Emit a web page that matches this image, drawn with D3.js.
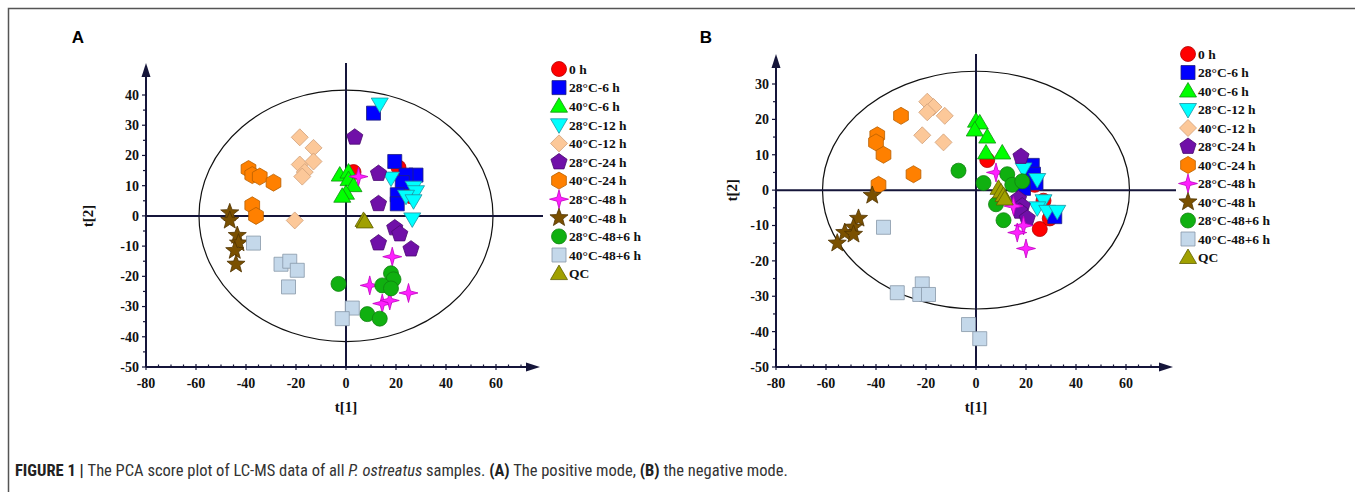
<!DOCTYPE html>
<html><head><meta charset="utf-8">
<script src="https://cdn.jsdelivr.net/npm/d3@7"></script>
<style>
html,body{margin:0;padding:0;background:#fff;}
svg{display:block;}
.tick{font-family:"Liberation Serif","Tinos","Times New Roman","DejaVu Serif",serif;font-weight:bold;font-size:14px;fill:#111;}
.leg{font-family:"Liberation Serif","Tinos","Times New Roman","DejaVu Serif",serif;font-weight:bold;font-size:13.5px;fill:#111;}
.atitle{font-family:"Liberation Serif","Tinos","Times New Roman","DejaVu Serif",serif;font-weight:bold;font-size:15px;fill:#111;}
.plabel{font-family:"Liberation Sans",Arial,sans-serif;font-weight:bold;font-size:17px;fill:#000;}
.cap{font-family:"Liberation Sans Narrow","Arial Narrow","Roboto Condensed",sans-serif;font-size:16.5px;fill:#333;}
</style>
</head><body>
<svg id="fig" width="1355" height="492"></svg>
<script>
// ---------- data ----------
const groups = ["0 h","28\u00B0C-6 h","40\u00B0C-6 h","28\u00B0C-12 h","40\u00B0C-12 h","28\u00B0C-24 h","40\u00B0C-24 h","28\u00B0C-48 h","40\u00B0C-48 h","28\u00B0C-48+6 h","40\u00B0C-48+6 h","QC"];
const shapes = ["circle","square","triangle","triangleDown","diamond","pentagon","hexagon","star4","star5","circle","square","triangle"];
const fills  = ["#ff0000","#0000ff","#00ff00","#00ffff","#fcc899","#7010a8","#ff8000","#ff20ff","#7a5000","#10b010","#c4d8ea","#a0a000"];
const strokes= ["#b00000","#202080","#109010","#2090a0","#d0a078","#4a0a70","#b86000","#c000c0","#503400","#108010","#8898a8","#606000"];

const xTicks = [-80,-60,-40,-20,0,20,40,60];
const yTicksA = [-50,-40,-30,-20,-10,0,10,20,30,40];
const yTicksB = [-50,-40,-30,-20,-10,0,10,20,30];

// Panel A (positive mode) scores [t1, t2]
const a0h    = [[3,14.5],[21,16],[25,9],[26,6.5],[24,12]];
const a28_6  = [[11,34],[19.5,18],[28,13.5],[24,13.5],[22.5,11],[20.5,7],[20.5,4]];
const a40_6  = [[-2.5,13.5],[1,14.5],[1,12],[3,10],[0,7.5],[-1.5,6.5]];
const a28_12 = [[13.5,37],[18,12.5],[27,9.5],[28,8],[24,6.5],[27,5],[26.5,-1]];
const a40_12 = [[-18.5,26],[-13,22.5],[-18.5,17],[-13,18],[-16.5,14.5],[-17.5,13],[-20.5,-1.5]];
const a28_24 = [[3.5,26],[13,14],[13,4],[19.5,-4],[21.5,-6],[13,-9],[26,-11]];
const a40_24 = [[-39,15.5],[-37.5,13.5],[-34.5,13],[-29,11],[-37.5,3.5],[-36,0]];
const a28_48 = [[5,13],[18.5,-13.5],[9.5,-23],[25,-25.5],[14.5,-29],[17.5,-28]];
const a40_48 = [[-46.5,1],[-46.5,-1.5],[-43.5,-6.5],[-43,-9],[-44.5,-11.5],[-44,-16]];
const a28_54 = [[-3,-22.5],[18,-19],[19,-21],[14.5,-23],[18,-24],[8.5,-32.5],[13.5,-34]];
const a40_54 = [[-37,-9],[-26,-16],[-22.5,-15],[-19.5,-18],[-23,-23.5],[2.5,-30.5],[-1.5,-34]];
const aQC    = [[7,-1.5],[7.5,-2]];

// Panel B (negative mode) scores [t1, t2]
const b0h    = [[4.5,8.5],[22,3],[23.5,1.5],[27,-3],[25.5,-11],[29.5,-8]];
const b28_6  = [[21,5],[22.5,7],[23,4.5],[24,2],[19,0.5],[31.5,-7.5]];
const b40_6  = [[0,19.5],[1.5,19],[-0.5,17],[4.5,15],[4,10.5],[10.5,10.5]];
const b28_12 = [[19,6],[24.5,3],[27,-3],[24.5,-5],[28.5,-6],[32.5,-6]];
const b40_12 = [[-19.5,25],[-17,23.5],[-19.5,22],[-12.5,21],[-21.5,15.5],[-13,13.5]];
const b28_24 = [[18,9.5],[17,-2.5],[18.5,-4.5],[17.5,-6],[20.5,-8]];
const b40_24 = [[-30,21],[-39.5,15.5],[-40,13.5],[-37,10],[-25,4.5],[-39,1.5]];
const b28_48 = [[8,5],[15,-4.5],[19,-10],[16.5,-12],[20,-16.5]];
const b40_48 = [[-41.5,-1.5],[-47,-8],[-49,-10.5],[-52.5,-12],[-49,-12.5],[-55.5,-15]];
const b28_54 = [[-7,5.5],[3,2],[12.5,4.5],[14.5,1.5],[18.5,2.5],[8,-4],[11,-8.5]];
const b40_54 = [[-37,-10.5],[-31.5,-29],[-21.5,-26.5],[-22.5,-29.5],[-19,-29.5],[-3,-38],[1.5,-42]];
const bQC    = [[9,0.5],[10,-0.5],[11,-1.5],[11.5,-2.5]];

const seriesA = [a0h,a28_6,a40_6,a28_12,a40_12,a28_24,a40_24,a28_48,a40_48,a28_54,a40_54,aQC];
const seriesB = [b0h,b28_6,b40_6,b28_12,b40_12,b28_24,b40_24,b28_48,b40_48,b28_54,b40_54,bQC];

// Hotelling T2 ellipse semi-axes (t1, t2 units)
const ellipseA = [58.8, 41.6];
const ellipseB = [61.4, 33.6];

// ---------- drawing ----------
const svg = d3.select("#fig");
svg.append("rect").attr("x",8.5).attr("y",8.5).attr("width",1400).attr("height",600)
  .attr("fill","none").attr("stroke","#555").attr("stroke-width",1.5);

function poly(n, r, rot){
  const pts=[];
  for(let i=0;i<n;i++){const a=rot+i*2*Math.PI/n;pts.push([r*Math.cos(a),r*Math.sin(a)]);}
  return "M"+pts.map(p=>p[0].toFixed(2)+","+p[1].toFixed(2)).join("L")+"Z";
}
function starPath(n, ro, ri){
  const pts=[];
  for(let i=0;i<2*n;i++){const a=-Math.PI/2+i*Math.PI/n;const r=i%2?ri:ro;pts.push([r*Math.cos(a),r*Math.sin(a)]);}
  return "M"+pts.map(p=>p[0].toFixed(2)+","+p[1].toFixed(2)).join("L")+"Z";
}
function shapePath(t){
  switch(t){
    case "circle": return "M7.5,0A7.5,7.5 0 1,1 -7.5,0A7.5,7.5 0 1,1 7.5,0Z";
    case "square": return "M-7,-7H7V7H-7Z";
    case "triangle": return "M0,-8.5L8.5,6L-8.5,6Z";
    case "triangleDown": return "M0,8.5L8.5,-6L-8.5,-6Z";
    case "diamond": return "M0,-8.5L8.5,0L0,8.5L-8.5,0Z";
    case "pentagon": return poly(5,8.5,-Math.PI/2);
    case "hexagon": return poly(6,8.5,-Math.PI/2);
    case "star4": return starPath(4,9.5,2.8);
    case "star5": return starPath(5,9.5,4);
  }
}

function panel(cfg){
  const x = d3.scaleLinear().domain([-80,60]).range(cfg.xr);
  const y = d3.scaleLinear().domain([-50,cfg.ytop]).range([367,cfg.ytopPx]);
  const g = svg.append("g");
  const axisCol = "#15153a";

  g.append("ellipse").attr("cx",x(0)).attr("cy",y(0))
    .attr("rx",x(cfg.ell[0])-x(0)).attr("ry",y(0)-y(cfg.ell[1]))
    .attr("fill","none").attr("stroke","#111").attr("stroke-width",1.2);

  g.append("line").attr("x1",x(-80)).attr("x2",cfg.zeroEnd).attr("y1",y(0)).attr("y2",y(0))
    .attr("stroke",axisCol).attr("stroke-width",2);
  g.append("line").attr("x1",x(0)).attr("x2",x(0)).attr("y1",367).attr("y2",cfg.arrowTop)
    .attr("stroke",axisCol).attr("stroke-width",2);

  const xa = g.append("g").attr("transform","translate(0,367)");
  xa.append("line").attr("x1",x(-80)).attr("x2",cfg.arrowRight-6).attr("stroke",axisCol).attr("stroke-width",2);
  xa.append("path").attr("d",`M${cfg.arrowRight},0L${cfg.arrowRight-14},-4.5L${cfg.arrowRight-14},4.5Z`).attr("fill",axisCol);
  d3.range(-80,71,5).forEach(v=>{
    const maj = v%20===0;
    xa.append("line").attr("x1",x(v)).attr("x2",x(v)).attr("y1",maj?-3:-2.5).attr("y2",maj?3:1).attr("stroke",axisCol).attr("stroke-width",1.2);
  });
  xTicks.forEach(v=>{
    xa.append("text").attr("class","tick").attr("x",x(v)).attr("y",21).attr("text-anchor","middle").text(v);
  });

  const ya = g.append("g").attr("transform",`translate(${x(-80)},0)`);
  ya.append("line").attr("y1",367).attr("y2",cfg.arrowTop+6).attr("stroke",axisCol).attr("stroke-width",2);
  ya.append("path").attr("d",`M0,${cfg.arrowTop}L-4.5,${cfg.arrowTop+14}L4.5,${cfg.arrowTop+14}Z`).attr("fill",axisCol);
  d3.range(-50,cfg.ytop+1,5).forEach(v=>{
    const maj = v%10===0;
    ya.append("line").attr("x1",maj?-4:-3).attr("x2",maj?1:0).attr("y1",y(v)).attr("y2",y(v)).attr("stroke",axisCol).attr("stroke-width",1.2);
  });
  cfg.yTicks.forEach(v=>{
    ya.append("text").attr("class","tick").attr("x",-7).attr("y",y(v)).attr("dy","0.35em").attr("text-anchor","end").text(v);
  });

  g.append("text").attr("class","atitle").attr("x",x(0)).attr("y",412).attr("text-anchor","middle").text("t[1]");
  g.append("text").attr("class","atitle").attr("transform",`translate(${cfg.t2x},${y(0)}) rotate(-90)`).attr("text-anchor","middle").attr("dy","0.35em").text("t[2]");
  g.append("text").attr("class","plabel").attr("x",cfg.plx).attr("y",43).attr("text-anchor","middle").text(cfg.label);

  cfg.series.forEach((pts,i)=>{
    g.append("g").selectAll("path").data(pts).join("path")
      .attr("d",shapePath(shapes[i]))
      .attr("transform",d=>`translate(${x(d[0])},${y(d[1])})`)
      .attr("fill",fills[i]).attr("stroke",strokes[i]).attr("stroke-width",0.8);
  });

  const lg = g.append("g");
  groups.slice(0,cfg.legendN).forEach((name,i)=>{
    const yy = cfg.legY + i*cfg.legDy;
    lg.append("path").attr("d",shapePath(shapes[i])).attr("transform",`translate(${cfg.legX},${yy})`)
      .attr("fill",fills[i]).attr("stroke",strokes[i]).attr("stroke-width",0.8);
    lg.append("text").attr("class","leg").attr("x",cfg.legX+10).attr("y",yy).attr("dy","0.35em").text(name);
  });
}

panel({xr:[146,496], ytop:40, ytopPx:95, yTicks:yTicksA, ell:ellipseA, series:seriesA,
  zeroEnd:543, arrowTop:63, arrowRight:540, t2x:88, plx:78, label:"A",
  legX:559, legY:69, legDy:18.6, legendN:12});
panel({xr:[776,1126], ytop:30, ytopPx:84, yTicks:yTicksB, ell:ellipseB, series:seriesB,
  zeroEnd:1176, arrowTop:54, arrowRight:1173, t2x:732, plx:706, label:"B",
  legX:1188, legY:54, legDy:18.5, legendN:12});

const cap = svg.append("text").attr("class","cap").attr("x",15).attr("y",476);
cap.append("tspan").attr("font-weight","bold").attr("fill","#222").text("FIGURE 1 | ");
cap.append("tspan").text("The PCA score plot of LC-MS data of all ");
cap.append("tspan").attr("font-style","italic").text("P. ostreatus");
cap.append("tspan").text(" samples. ");
cap.append("tspan").attr("font-weight","bold").attr("fill","#222").text("(A)");
cap.append("tspan").text(" The positive mode, ");
cap.append("tspan").attr("font-weight","bold").attr("fill","#222").text("(B)");
cap.append("tspan").text(" the negative mode.");
</script>
</body></html>
